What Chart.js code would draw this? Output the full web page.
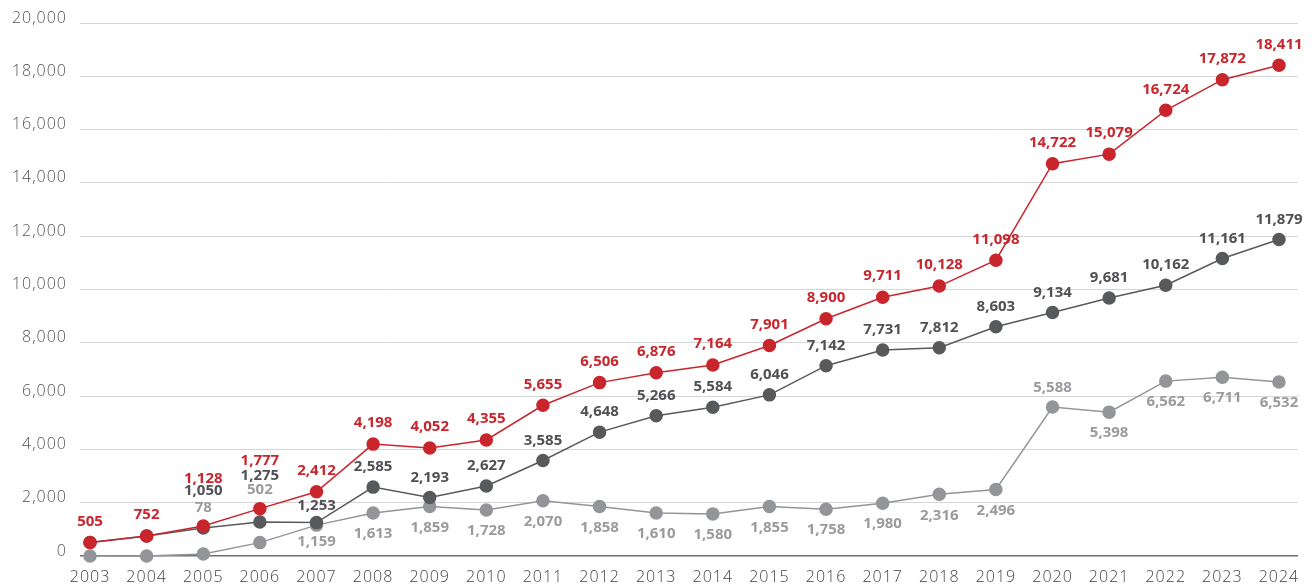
<!DOCTYPE html>
<html>
<head>
<meta charset="utf-8">
<script src="https://cdn.jsdelivr.net/npm/chart.js@4/dist/chart.umd.min.js"></script>
<style>
  html, body { margin: 0; padding: 0; background: #ffffff; }
  #wrap { width: 1312px; height: 588px; }
</style>
</head>
<body>
<div id="wrap"><canvas id="chart" width="1312" height="588"></canvas></div>
<script>
// Yearly figures, 2003–2024
const years = [2003, 2004, 2005, 2006, 2007, 2008, 2009, 2010, 2011, 2012, 2013,
               2014, 2015, 2016, 2017, 2018, 2019, 2020, 2021, 2022, 2023, 2024];

// Total
const totalValues = [505, 752, 1128, 1777, 2412, 4198, 4052, 4355, 5655, 6506, 6876,
                     7164, 7901, 8900, 9711, 10128, 11098, 14722, 15079, 16724, 17872, 18411];

// Dark grey component
const darkValues = [505, 752, 1050, 1275, 1253, 2585, 2193, 2627, 3585, 4648, 5266,
                    5584, 6046, 7142, 7731, 7812, 8603, 9134, 9681, 10162, 11161, 11879];

// Light grey component
const lightValues = [0, 0, 78, 502, 1159, 1613, 1859, 1728, 2070, 1858, 1610,
                     1580, 1855, 1758, 1980, 2316, 2496, 5588, 5398, 6562, 6711, 6532];

// Y axis ticks
const yTicks = [0, 2000, 4000, 6000, 8000, 10000, 12000, 14000, 16000, 18000, 20000];

// Years whose value is not printed for a series
const unlabelledYears = { dark: [2003, 2004], light: [2003, 2004] };

const RED = '#c9252c';
const DARK = '#58595b';
const LIGHT = '#939598';

const fmt = v => v.toLocaleString('en-US');
const toPoints = vals => vals.map((v, i) => ({ x: years[i], y: v }));

// Vertical placement of the value labels (pixels from the point centre)
const labelShift = {
  total: { base: -21, years: { 2005: -47, 2006: -48 } },
  dark:  { base: -20, years: { 2005: -37, 2006: -46, 2007: -17 } },
  light: { base: 21,  years: { 2005: -46, 2006: -53, 2007: 17, 2020: -19 } }
};

// Slightly tracked-out axis text
const axisTracking = {
  id: 'axisTracking',
  beforeDraw(chart) { chart.ctx.letterSpacing = '1px'; }
};

const valueLabels = {
  id: 'valueLabels',
  afterDatasetsDraw(chart) {
    const ctx = chart.ctx;
    ctx.save();
    ctx.letterSpacing = '0px';
    ctx.textAlign = 'center';
    ctx.textBaseline = 'middle';
    ctx.font = 'bold 15px "Open Sans", "DejaVu Sans", sans-serif';
    chart.data.datasets.forEach((ds, di) => {
      const meta = chart.getDatasetMeta(di);
      const key = ds.key;
      const skip = unlabelledYears[key] || [];
      const shift = labelShift[key];
      ctx.fillStyle = ds.labelColor;
      meta.data.forEach((pt, i) => {
        const yr = years[i];
        if (skip.includes(yr)) return;
        const dy = shift.years[yr] !== undefined ? shift.years[yr] : shift.base;
        ctx.fillText(fmt(ds.data[i].y), pt.x, pt.y + dy);
      });
    });
    ctx.restore();
  }
};

const seriesStyle = color => ({
  borderColor: color,
  backgroundColor: color,
  pointBackgroundColor: color,
  pointBorderColor: color,
  borderWidth: 1.5,
  pointRadius: 6,
  pointHoverRadius: 6,
  tension: 0,
  clip: false
});

new Chart(document.getElementById('chart'), {
  type: 'line',
  data: {
    datasets: [
      Object.assign({ key: 'total', data: toPoints(totalValues), labelColor: RED }, seriesStyle(RED)),
      Object.assign({ key: 'dark', data: toPoints(darkValues), labelColor: '#505154' }, seriesStyle(DARK)),
      Object.assign({ key: 'light', data: toPoints(lightValues), labelColor: '#9a9b9e' }, seriesStyle(LIGHT))
    ]
  },
  options: {
    responsive: false,
    animation: false,
    events: [],
    layout: { padding: { top: 23, right: 14, left: 0, bottom: 0 } },
    plugins: { legend: { display: false }, tooltip: { enabled: false } },
    scales: {
      x: {
        type: 'linear',
        min: 2002.823,
        max: 2024.336,
        afterBuildTicks: scale => { scale.ticks = years.map(v => ({ value: v })); },
        afterFit: scale => { scale.height = 32; },
        grid: { display: false, drawTicks: false },
        border: { display: false },
        ticks: {
          padding: 12,
          color: '#444444',
          font: { family: '"Open Sans", "DejaVu Sans", sans-serif', size: 16, weight: '300' },
          maxRotation: 0,
          autoSkip: false,
          callback: v => String(v)
        }
      },
      y: {
        min: 0,
        max: 20000,
        afterBuildTicks: scale => { scale.ticks = yTicks.map(v => ({ value: v })); },
        afterFit: scale => { scale.width = 80; },
        grid: {
          drawTicks: false,
          color: c => c.tick && c.tick.value === 0 ? '#6d6e71' : '#d6d6d6',
          lineWidth: c => c.tick && c.tick.value === 0 ? 1.5 : 1
        },
        border: { display: false },
        ticks: {
          padding: 13,
          labelOffset: -5,
          color: '#555555',
          font: { family: '"Open Sans", "DejaVu Sans", sans-serif', size: 16, weight: '300' },
          callback: v => fmt(v)
        }
      }
    }
  },
  plugins: [axisTracking, valueLabels]
});
</script>
</body>
</html>
